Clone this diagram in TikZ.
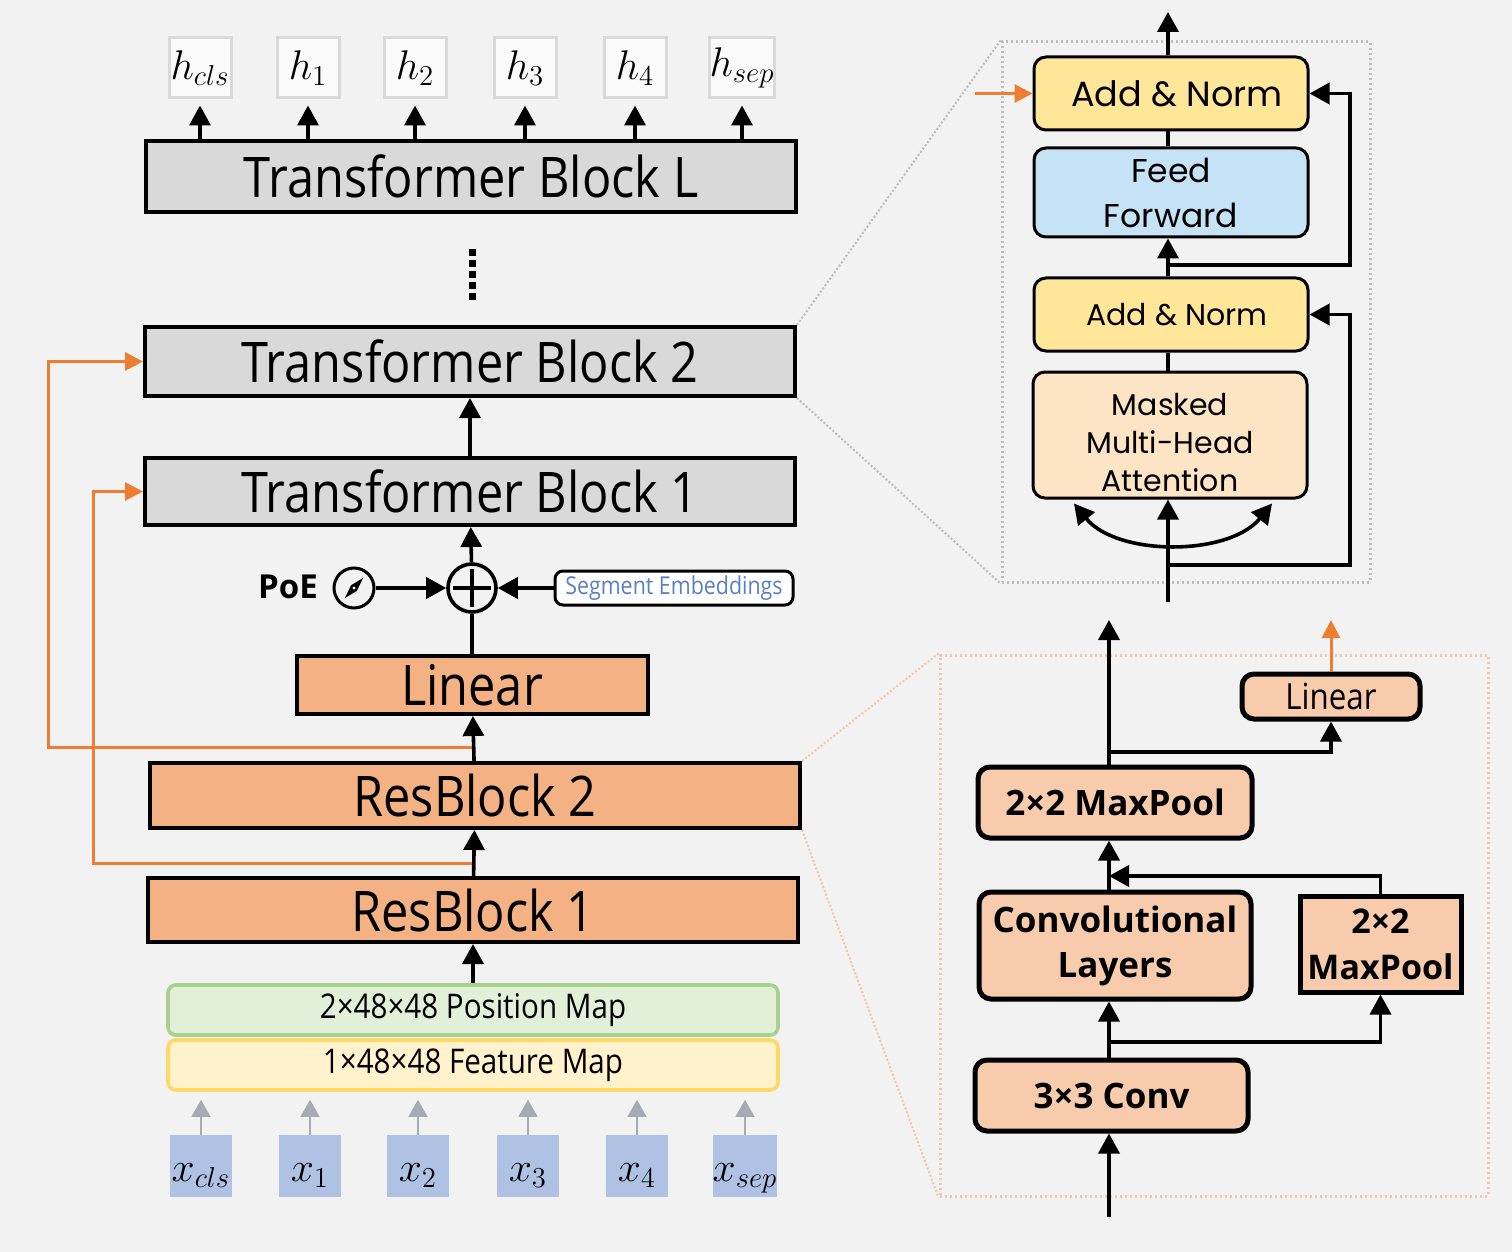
\documentclass[tikz,border=0pt]{standalone}
\usepackage{amsmath}
\usepackage{fontspec}
\usepackage{tikz}
\usetikzlibrary{arrows.meta,positioning}
\setmainfont{Open Sans}
\newfontfamily\blockfont[FakeStretch=0.87]{Open Sans}
\newfontfamily\geofont{Poppins}
\definecolor{bgcol}{HTML}{F2F2F2}
\definecolor{tgray}{HTML}{D9D9D9}
\definecolor{resorange}{HTML}{F4B183}
\definecolor{lightorange}{HTML}{F8CBAD}
\definecolor{lineorange}{HTML}{ED7D31}
\definecolor{normyellow}{HTML}{FFE699}
\definecolor{ffblue}{HTML}{C6E2F5}
\definecolor{attpeach}{HTML}{FCE4C4}
\definecolor{posgreen}{HTML}{E2F0D9}
\definecolor{posgreenline}{HTML}{A9D18E}
\definecolor{featyellow}{HTML}{FFF2CC}
\definecolor{featyellowline}{HTML}{FFD966}
\definecolor{tokblue}{HTML}{AFC2E4}
\definecolor{tokarrow}{HTML}{A6AAB2}
\definecolor{segblue}{HTML}{5B7FC4}
\definecolor{zoomgray}{HTML}{BDBDBD}
\definecolor{zoomorange}{HTML}{F3C8A8}

\tikzset{
  arr/.style={-{Triangle[length=10pt,width=10.5pt]}, line width=1.8pt},
  orangearr/.style={-{Triangle[length=9pt,width=9pt]}, line width=1.5pt, draw=lineorange, color=lineorange},
  grayarr/.style={-{Triangle[length=8.5pt,width=9.5pt]}, line width=0.8pt, draw=tokarrow, color=tokarrow},
  tblock/.style={draw, line width=2pt, fill=tgray, inner sep=0pt, font=\blockfont\fontsize{28}{32}\selectfont},
  oblock/.style={tblock, fill=resorange},
  mapbox/.style={draw, line width=1.8pt, rounded corners=4pt, inner sep=0pt, minimum width=305pt, minimum height=25pt, font=\blockfont\fontsize{17}{20}\selectfont},
  hbox/.style={draw=tgray, line width=1.5pt, fill=white!60!bgcol, minimum width=31pt, minimum height=30pt, inner sep=0pt, font=\fontsize{20}{24}\selectfont},
  xbox/.style={fill=tokblue, minimum width=31pt, minimum height=31pt, inner sep=0pt, text height=11pt, text depth=4pt, font=\fontsize{20}{24}\selectfont},
  tfbox/.style={draw, line width=1.5pt, rounded corners=6pt, inner sep=0pt, minimum width=137pt, align=center},
  cnnbox/.style={draw, line width=2.5pt, rounded corners=6pt, inner sep=0pt, fill=lightorange, align=center, font=\bfseries\fontsize{17.5}{22.5}\selectfont},
  zoombox/.style={draw=zoomgray, line width=1.5pt, dash pattern=on 1.2pt off 1.3pt, inner sep=0pt},
  zoomline/.style={draw=zoomgray, line width=1pt, dash pattern=on 1pt off 1pt}
}

\begin{document}
\begin{tikzpicture}[x=0.5pt, y=-0.5pt]
	\fill[bgcol] (0,0) rectangle (1512,1252);
	\useasboundingbox (0,0) rectangle (1512,1252);

	\node[tblock, minimum width=325pt, minimum height=35.5pt] (tbl) at (471,176.5) {Transformer Block L};
	\node[tblock, minimum width=325pt, minimum height=34.5pt] (tb2) at (470,361.5) {Transformer Block 2};
	\node[tblock, minimum width=325pt, minimum height=33.5pt] (tb1) at (470,491.5) {Transformer Block 1};
	\node[oblock, minimum width=175.5pt, minimum height=29pt] (linear) at (472,685) {Linear};
	\node[oblock, minimum width=325pt, minimum height=32.5pt] (rb2) at (475,795.5) {ResBlock 2};
	\node[oblock, minimum width=325pt, minimum height=32pt] (rb1) at (473,910) {ResBlock 1};
	\node[mapbox, fill=posgreen, draw=posgreenline] (pos) at (473,1010) {2×48×48 Position Map};
	\node[mapbox, fill=featyellow, draw=featyellowline] (feat) at (473,1065) {1×48×48 Feature Map};

	\node[circle, draw, line width=1.8pt, minimum size=24pt, inner sep=0pt] (plus) at (472,588) {};
	\draw[line width=1.8pt] ([xshift=-9.5pt]plus.center) -- ([xshift=9.5pt]plus.center);
	\draw[line width=1.8pt] ([yshift=-9.5pt]plus.center) -- ([yshift=9.5pt]plus.center);
	\node[circle, draw, line width=1.5pt, minimum size=20pt, inner sep=0pt] (poe) at (354,588) {};
	\fill ([shift={(9,-10)}]poe.center) -- ([shift={(3,2.7)}]poe.center) -- ([shift={(-9,10)}]poe.center) -- ([shift={(-3,-2.7)}]poe.center) -- cycle;
	\fill[white] (poe.center) circle (0.8pt);
	\node[font=\bfseries\fontsize{16.5}{20}\selectfont] (poelabel) at (288,587) {PoE};
	\node[draw, line width=1.5pt, rounded corners=4pt, fill=white, text=segblue, minimum width=119pt, minimum height=17pt, inner sep=0pt, font=\blockfont\fontsize{12.3}{15}\selectfont] (seg) at (674,588) {Segment Embeddings};

	\node (vdots) at (472,270) {};
	\foreach \k in {0,...,4}
		\fill (468.5,249+11*\k) rectangle ++(7,7);

	\foreach \xx/\lab [count=\i] in {200/cls, 308/1, 415/2, 525/3, 635/4, 742/sep} {
		\node[hbox] (h\i) at (\xx,68) {$h_{\lab}$};
		\draw[arr, shorten >=3pt] (h\i.south |- tbl.north) -- (h\i.south);
	}
	\foreach \xx/\lab [count=\i] in {201/cls, 310/1, 418/2, 528/3, 637/4, 745/sep} {
		\node[xbox] (x\i) at (\xx,1166) {\raisebox{-4pt}{$x_{\lab}$}};
		\draw[grayarr, shorten >=4pt] (x\i.north) -- (x\i.north |- feat.south);
	}

	\coordinate (tap2) at (472,747);
	\coordinate (tap1) at (472,863);
	\draw[orangearr] (tap2) -- ++(-424,0) |- (tb2.west);
	\draw[orangearr] (tap1) -- ++(-379,0) |- (tb1.west);

	\draw[arr] (pos) -- (rb1);
	\draw[arr] (rb1) -- (rb2);
	\draw[arr] (rb2) -- (linear);
	\draw[line width=1.8pt] (linear) -- (plus);
	\draw[arr] (plus) -- (tb1);
	\draw[arr] (poe) -- (plus);
	\draw[arr] (seg) -- (plus);
	\draw[arr] (tb1) -- (tb2);

	\node[zoombox, minimum width=184pt, minimum height=270pt] (tzoom) at (1186,312) {};
	\draw[zoomline] (tb2.north east) -- (tzoom.north west);
	\draw[zoomline] (tb2.south east) -- (tzoom.south west);

	\node[tfbox, fill=normyellow, minimum height=36.5pt, font=\geofont\fontsize{17.5}{22}\selectfont] (an1) at (1171,93.5) {\hspace{6pt}Add \& Norm};
	\node[tfbox, fill=ffblue, minimum height=44.5pt, font=\geofont\fontsize{16.5}{22.5}\selectfont] (ff) at (1171,192.5) {Feed\\Forward};
	\node[tfbox, fill=normyellow, minimum height=36.5pt, font=\geofont\fontsize{15}{20}\selectfont] (an2) at (1171,314.5) {\hspace{6pt}Add \& Norm};
	\node[tfbox, fill=attpeach, minimum height=63pt, font=\geofont\fontsize{15}{19}\selectfont] (mmha) at (1170,435) {\rule{0pt}{19pt}Masked\\Multi-Head\\Attention};

	\coordinate (tout) at (1168,12);
	\coordinate (tin) at (1168,602);
	\coordinate (r1) at (1168,265);
	\coordinate (r2) at (1168,565);
	\coordinate (oin) at (975,93.5);
	\draw[arr] (an1.north -| tout) -- (tout);
	\draw[line width=1.8pt] (an1.south -| tout) -- (ff.north -| tout);
	\draw[arr] (an2.north -| tout) -- (ff.south -| tout);
	\draw[line width=1.8pt] (an2.south -| tout) -- (mmha.north -| tout);
	\draw[arr] (tin) -- (mmha.south -| tin);
	\draw[arr] (r1) -- ++(182,0) |- (an1.east);
	\draw[arr] (r2) -- ++(182,0) |- (an2.east);
	\draw[{Triangle[length=10pt,width=10.5pt]}-{Triangle[length=10pt,width=10.5pt]}, line width=1.8pt] ([shift={(-96,4)}]mmha.south) .. controls +(43,53) and +(-43,53) .. ([shift={(102,4)}]mmha.south);
	\draw[orangearr] (oin) -- (an1.west);

	\node[zoombox, draw=zoomorange, minimum width=274pt, minimum height=270.5pt] (bzoom) at (1214,925.5) {};
	\draw[zoomline, draw=zoomorange] (rb2.north east) -- (bzoom.north west);
	\draw[zoomline, draw=zoomorange] (rb2.south east) -- (bzoom.south west);

	\node[cnnbox, minimum width=89pt, minimum height=22.5pt, font=\blockfont\fontsize{18}{22}\selectfont] (lin2) at (1331,696.5) {Linear};
	\node[cnnbox, minimum width=137pt, minimum height=35.5pt] (mp1) at (1115,802.5) {2×2 MaxPool};
	\node[cnnbox, minimum width=136pt, minimum height=53.5pt] (conv) at (1115,945.5) {Convolutional\\Layers};
	\node[cnnbox, rounded corners=0pt, minimum width=80.5pt, minimum height=48pt, font=\bfseries\fontsize{17}{23}\selectfont] (mp2) at (1380.5,944) {2×2\\MaxPool};
	\node[cnnbox, minimum width=136.5pt, minimum height=35.5pt] (c33) at (1111.5,1095.5) {3×3 Conv};

	\coordinate (bin) at (1109,1217);
	\coordinate (b1) at (1109,1042);
	\coordinate (j1) at (1109,876);
	\coordinate (b2) at (1109,752);
	\coordinate (bout) at (1109,620);
	\coordinate (lout) at (1331,620);
	\draw[arr] (bin) -- (c33.south -| bin);
	\draw[arr] (c33.north -| bin) -- (conv.south -| bin);
	\draw[arr] (b1) -| (mp2);
	\draw[arr] (conv.north -| bin) -- (mp1.south -| bin);
	\draw[arr] (mp2) |- (j1);
	\draw[arr] (mp1.north -| bin) -- (bout);
	\draw[arr] (b2) -| (lin2);
	\draw[orangearr] (lin2) -- (lout);
\end{tikzpicture}
\end{document}
